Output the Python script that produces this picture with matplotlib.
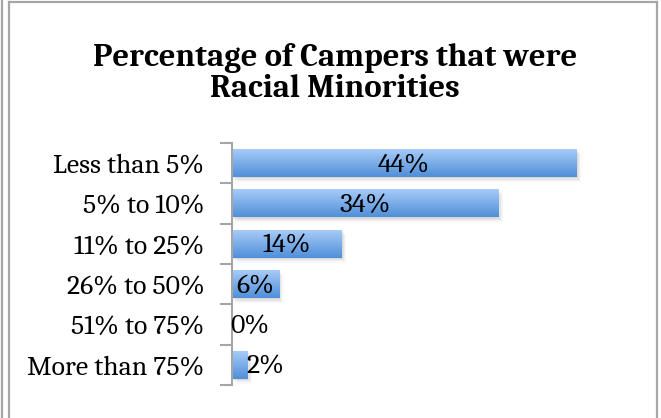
import numpy as np
import matplotlib
matplotlib.use("Agg")
import matplotlib.pyplot as plt
from matplotlib.colors import LinearSegmentedColormap
from matplotlib.lines import Line2D
from matplotlib import transforms

categories = ['Less than 5%', '5% to 10%', '11% to 25%', '26% to 50%', '51% to 75%', 'More than 75%']
values = [44, 34, 14, 6, 0, 2]
labels = ['44%', '34%', '14%', '6%', '0%', '2%']

W, H = 661, 418
fig = plt.figure(figsize=(W / 100, H / 100), dpi=100)

# chart frame: outer page line plus chart border
gray = '#a6a6a6'
fig.add_artist(Line2D([1.5 / W, 1.5 / W], [0, 1], color=gray, lw=1.6))
fig.add_artist(Line2D([9 / W, 9 / W], [0, 1 - 2 / H], color=gray, lw=1.6))
fig.add_artist(Line2D([9 / W, 657 / W], [1 - 2 / H, 1 - 2 / H], color=gray, lw=1.6))
fig.add_artist(Line2D([657 / W, 657 / W], [0, 1 - 2 / H], color=gray, lw=1.6))

fig.text(335 / W, 1 - 97 / H, 'Percentage of Campers that were\nRacial Minorities',
         ha='center', va='baseline', family='Caladea', weight='bold', fontsize=23.5,
         linespacing=1.05)

left, right = 231.5 / W, (231.5 + 392) / W
bottom, top = 1 - 385 / H, 1 - 143 / H
ax = fig.add_axes([left, bottom, right - left, top - bottom])

cmap = LinearSegmentedColormap.from_list('bar', ['#4f8fd9', '#a7cbf7'])
grad = np.linspace(0, 1, 64).reshape(-1, 1)
n = len(categories)
ypos = np.arange(n)[::-1]
h = 0.69

# soft shadow under each bar
for i, (y, v) in enumerate(zip(ypos, values)):
    if v <= 0:
        continue
    for k, a in enumerate([0.08, 0.06, 0.045, 0.03]):
        off = transforms.offset_copy(ax.transData, fig=fig, x=(1 + k) * 0.9, y=-(1 + k) * 0.9, units='points')
        ax.barh(y, v, height=h, color='#404040', alpha=a, transform=off, zorder=1, lw=0)

for y, v in zip(ypos, values):
    if v <= 0:
        continue
    ax.imshow(grad, extent=(0, v, y - h / 2, y + h / 2), origin='lower', cmap=cmap,
              aspect='auto', zorder=2, interpolation='bilinear')

for y, v, lab in zip(ypos, values, labels):
    x = v / 2 if v >= 5 else v + 2.3
    ax.text(x, y - 0.04, lab, ha='center', va='center', family='Caladea', fontsize=20, zorder=3)

ax.set_xlim(0, 50)
ax.set_ylim(-0.5, n - 0.5)
ax.set_yticks(ypos)
ax.set_yticklabels(categories, family='Caladea', fontsize=20)
ax.set_yticks(np.arange(n + 1) - 0.5, minor=True)
ax.tick_params(axis='y', which='major', length=0, pad=19.5)
ax.tick_params(axis='y', which='minor', length=9, width=1.5, color=gray)
ax.set_xticks([])
for s in ['top', 'right', 'bottom']:
    ax.spines[s].set_visible(False)
ax.spines['left'].set_color(gray)
ax.spines['left'].set_linewidth(1.5)
ax.patch.set_alpha(0)

fig.savefig('out.png', dpi=100)
